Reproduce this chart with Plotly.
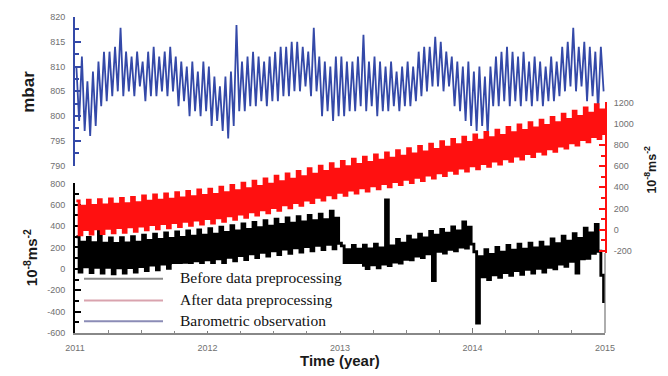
import numpy as np
import plotly.graph_objects as go

# ---------------- data (4 samples per month, 2011-2015) ----------------
year_ticks = [2011, 2012, 2013, 2014, 2015]
year_labels = ["2011", "2012", "2013", "2014", "2015"]
mbar_ticks = [790, 795, 800, 805, 810, 815, 820]
acc_left_ticks = [-600, -400, -200, 0, 200, 400, 600, 800]
acc_left_labels = ["-600", "-400", "-200", "0", "200", "400", "600", "800"]
acc_right_ticks = [-200, 0, 200, 400, 600, 800, 1000, 1200]
acc_right_labels = ["-200", "0", "200", "400", "600", "800", "1000", "1200"]

# Barometric observation (mbar)
barometric = [
    810, 799, 812, 797,   807, 796, 809, 798,   811, 802, 813, 803,   813, 804, 814, 805,
    817.8, 804, 813, 805, 812, 804, 813, 806,   811, 803, 813, 804,   814, 804, 812, 805,
    813, 804, 814, 805,   812, 802, 811, 803,   810, 800, 811, 801,   809, 800, 811, 801,
    810, 798, 808, 799,   806, 797, 808, 795.5, 809, 798, 818.4, 801, 811, 801, 812, 802,
    813, 802, 812, 803,   811, 802, 812, 803,   813, 803, 814, 804,   814, 804, 815, 805,
    815, 805, 814, 806,   813, 804, 817.8, 805, 812, 800, 811, 801,   810, 799, 812, 800,
    812, 800, 811, 801,   811, 801, 812, 802,   816.4, 801, 811, 802, 812, 800, 811, 801,
    810, 801, 811, 802,   809, 801, 810, 802,   811, 802, 810, 803,   813, 804, 814, 805,
    814, 806, 816, 806,   815, 805, 813, 806,   812, 802, 811, 801,   810, 799, 811, 798,
    809, 797, 810, 798,   808, 796, 810, 802,   812, 802, 813, 803,   814, 802, 813, 803,
    812, 802, 813, 803,   811, 802, 812, 803,   811, 802, 810, 803,   812, 803, 811, 804,
    814, 805, 815, 806,   817.8, 805, 814, 806, 815, 803, 814, 804,   813, 801, 814, 805,
]

# After data preprocessing (10^-8 m s^-2, right axis)
after_prep = [
    272, -48, 222, 2,     278, -42, 228, 8,     284, -36, 234, 14,    290, -30, 240, 20,
    296, -24, 246, 26,    305, -15, 255, 35,    318, -2, 268, 48,     328, 8, 278, 58,
    338, 18, 288, 68,     350, 30, 300, 80,     362, 42, 312, 92,     374, 54, 324, 104,
    383, 63, 333, 113,    400, 80, 350, 130,    418, 98, 368, 148,    438, 118, 388, 168,
    458, 138, 408, 188,   480, 160, 430, 210,   504, 184, 454, 234,   526, 206, 476, 256,
    550, 230, 500, 280,   575, 255, 525, 305,   600, 280, 550, 330,   622, 302, 572, 352,
    644, 324, 594, 374,   665, 345, 615, 395,   685, 365, 635, 415,   705, 385, 655, 435,
    725, 405, 675, 455,   745, 425, 695, 475,   765, 445, 715, 495,   785, 465, 735, 515,
    808, 488, 758, 538,   830, 510, 780, 560,   852, 532, 802, 582,   874, 554, 824, 604,
    895, 575, 845, 625,   918, 598, 868, 648,   940, 620, 890, 670,   965, 645, 915, 695,
    988, 668, 938, 718,   1010, 690, 960, 740,  1034, 714, 984, 764,  1060, 740, 1010, 790,
    1090, 770, 1040, 820, 1120, 800, 1070, 850, 1150, 830, 1100, 880, 1180, 860, 1130, 910,
]

# Before data preprocessing (10^-8 m s^-2, left axis)
before_prep = [
    300, -30, 250, 20,    295, -35, 245, 15,    535, -40, 240, 15,    290, -45, 238, 10,
    292, -38, 243, 12,    300, -30, 250, 22,    315, -15, 265, 35,    325, -8, 275, 45,
    335, 5, 285, 55,      345, 15, 295, 62,     355, 25, 305, 75,     365, 35, 315, 85,
    375, 45, 325, 95,     390, 60, 340, 108,    405, 75, 355, 125,    420, 88, 370, 140,
    435, 105, 385, 155,   450, 120, 400, 170,   465, 135, 415, 185,   477, 145, 427, 197,
    488, 158, 438, 208,   500, 170, 450, 220,   512, 180, 460, 230,   540, 188, 475, 240,
    215, 0, 180, 30,      218, -5, 183, 33,     222, 2, 187, 37,      232, 10, 195, 45,
    645, 30, 215, 65,     275, 55, 240, 90,     305, 85, 270, 120,    325, 105, 290, 140,
    350, -110, 315, 165,  368, 148, 333, 183,   392, 170, 355, 205,   440, 195, 390, 232,
    160, -507, 115, -75,  180, -100, 135, -55,  200, -80, 155, -35,   220, -60, 175, -15,
    230, -50, 185, -5,    240, -40, 195, 5,     250, -30, 205, 15,    280, 0, 235, 45,
    305, 25, 260, 70,     330, -40, 285, 95,    380, 100, 335, 145,   415, 165, -60, -320,
]

# sampling grid: 4 samples per month
t = 2011 + (np.arange(len(barometric)) + 0.5) / 48.0

# ---------------- figure ----------------
W, H = 668, 376
ML, MR, MT, MB = 75, 63, 12, 43
PW, PH = W - ML - MR, H - MT - MB


def fx(px):
    return (px - ML) / PW


def fy(py):
    return (H - MB - py) / PH


tickfont = dict(family="Liberation Sans, Arial", size=9, color="#707070")
BLUE = "#3449a8"

fig = go.Figure()
fig.add_trace(go.Scatter(x=t, y=barometric, xaxis="x", yaxis="y", mode="lines",
                         line=dict(color=BLUE, width=1.8, simplify=False),
                         name="Barometric observation"))
fig.add_trace(go.Scatter(x=t, y=before_prep, xaxis="x", yaxis="y2", mode="lines",
                         line=dict(color="#000000", width=2.9, shape="hv", simplify=False),
                         name="Before data preprocessing"))
fig.add_trace(go.Scatter(x=t, y=after_prep, xaxis="x", yaxis="y3", mode="lines",
                         line=dict(color="#ff1010", width=2.9, shape="hv", simplify=False),
                         name="After data preprocessing"))

common = dict(showgrid=False, zeroline=False, showline=True, ticks="inside", tickfont=tickfont)

fig.update_layout(
    width=W, height=H,
    margin=dict(l=ML, r=MR, t=MT, b=MB),
    paper_bgcolor="white", plot_bgcolor="rgba(0,0,0,0)",
    showlegend=False,
    xaxis=dict(domain=[0, 1], range=[2011, 2015], anchor="y2",
               tickvals=year_ticks, ticktext=year_labels, ticklen=5, tickcolor="#777",
               linecolor="#888", linewidth=1.5, ticklabelstandoff=5,
               minor=dict(tick0=2011, dtick=0.25, ticks="inside", ticklen=3, tickcolor="#888"),
               **common),
    yaxis=dict(domain=[fy(163), 1.0], range=[790, 820], anchor="x",
               tickvals=mbar_ticks, ticklen=6, tickcolor=BLUE, tickwidth=1.5,
               linecolor=BLUE, linewidth=2, ticklabelstandoff=6,
               minor=dict(dtick=2.5, tick0=790, ticks="inside", ticklen=4, tickcolor=BLUE),
               **common),
    yaxis2=dict(domain=[0, fy(181)], range=[-600, 800], anchor="x",
                tickvals=acc_left_ticks, ticktext=acc_left_labels, ticklen=6,
                tickcolor="#000", tickwidth=1.5, linecolor="#000", linewidth=2,
                ticklabelstandoff=6,
                minor=dict(dtick=100, tick0=0, ticks="inside", ticklen=4, tickcolor="#000"),
                **common),
    yaxis3=dict(domain=[fy(251.7), fy(98)], range=[-220, 1209], anchor="x", side="right",
                tickvals=acc_right_ticks, ticktext=acc_right_labels, ticklen=6,
                tickcolor="#ff1010", tickwidth=1.5, linecolor="#ff1010", linewidth=2,
                ticklabelstandoff=5,
                minor=dict(dtick=100, tick0=0, ticks="inside", ticklen=4, tickcolor="#ff1010"),
                **common),
)

# right frame line of lower panel
fig.add_shape(type="line", xref="paper", yref="paper", x0=1, x1=1, y0=0, y1=fy(251.7),
              line=dict(color="#777", width=1.2), layer="above")

# legend box and entries
fig.add_shape(type="rect", xref="paper", yref="paper", x0=fx(172), x1=fx(362),
              y0=fy(331), y1=fy(263), fillcolor="white", line=dict(width=0), layer="above")
legend_items = [
    ("Before data preprocessing", "#8a8a8a", 277),
    ("After data preprocessing", "#d9a3ae", 299),
    ("Barometric observation", "#8b8cb6", 320),
]
for text, col, py in legend_items:
    fig.add_shape(type="line", xref="paper", yref="paper", x0=fx(84), x1=fx(163),
                  y0=fy(py + 1), y1=fy(py + 1), line=dict(color=col, width=2), layer="above")
    fig.add_annotation(text=text, xref="paper", yref="paper", x=fx(178), y=fy(py),
                       xanchor="left", yanchor="middle", showarrow=False,
                       font=dict(family="Liberation Serif, Times New Roman", size=15.5, color="#111"))

# axis titles
title_font = dict(family="Liberation Sans, Arial", color="#1a1a1a")
fig.add_annotation(text="<b>mbar</b>", xref="paper", yref="paper", x=fx(29), y=fy(88),
                   textangle=-90, showarrow=False, xanchor="center", yanchor="middle",
                   font=dict(size=17, **title_font))
fig.add_annotation(text="<b>10<sup>-8</sup>ms<sup>-2</sup></b>", xref="paper", yref="paper",
                   x=fx(30), y=fy(257), textangle=-90, showarrow=False,
                   xanchor="center", yanchor="middle", font=dict(size=15, **title_font))
fig.add_annotation(text="<b>10<sup>-8</sup>ms<sup>-2</sup></b>", xref="paper", yref="paper",
                   x=fx(650), y=fy(167), textangle=-90, showarrow=False,
                   xanchor="center", yanchor="middle", font=dict(size=12.5, **title_font))
fig.add_annotation(text="<b>Time (year)</b>", xref="paper", yref="paper",
                   x=fx(340), y=fy(361), showarrow=False, xanchor="center", yanchor="middle",
                   font=dict(size=15, **title_font))

fig.write_html("out.html")
